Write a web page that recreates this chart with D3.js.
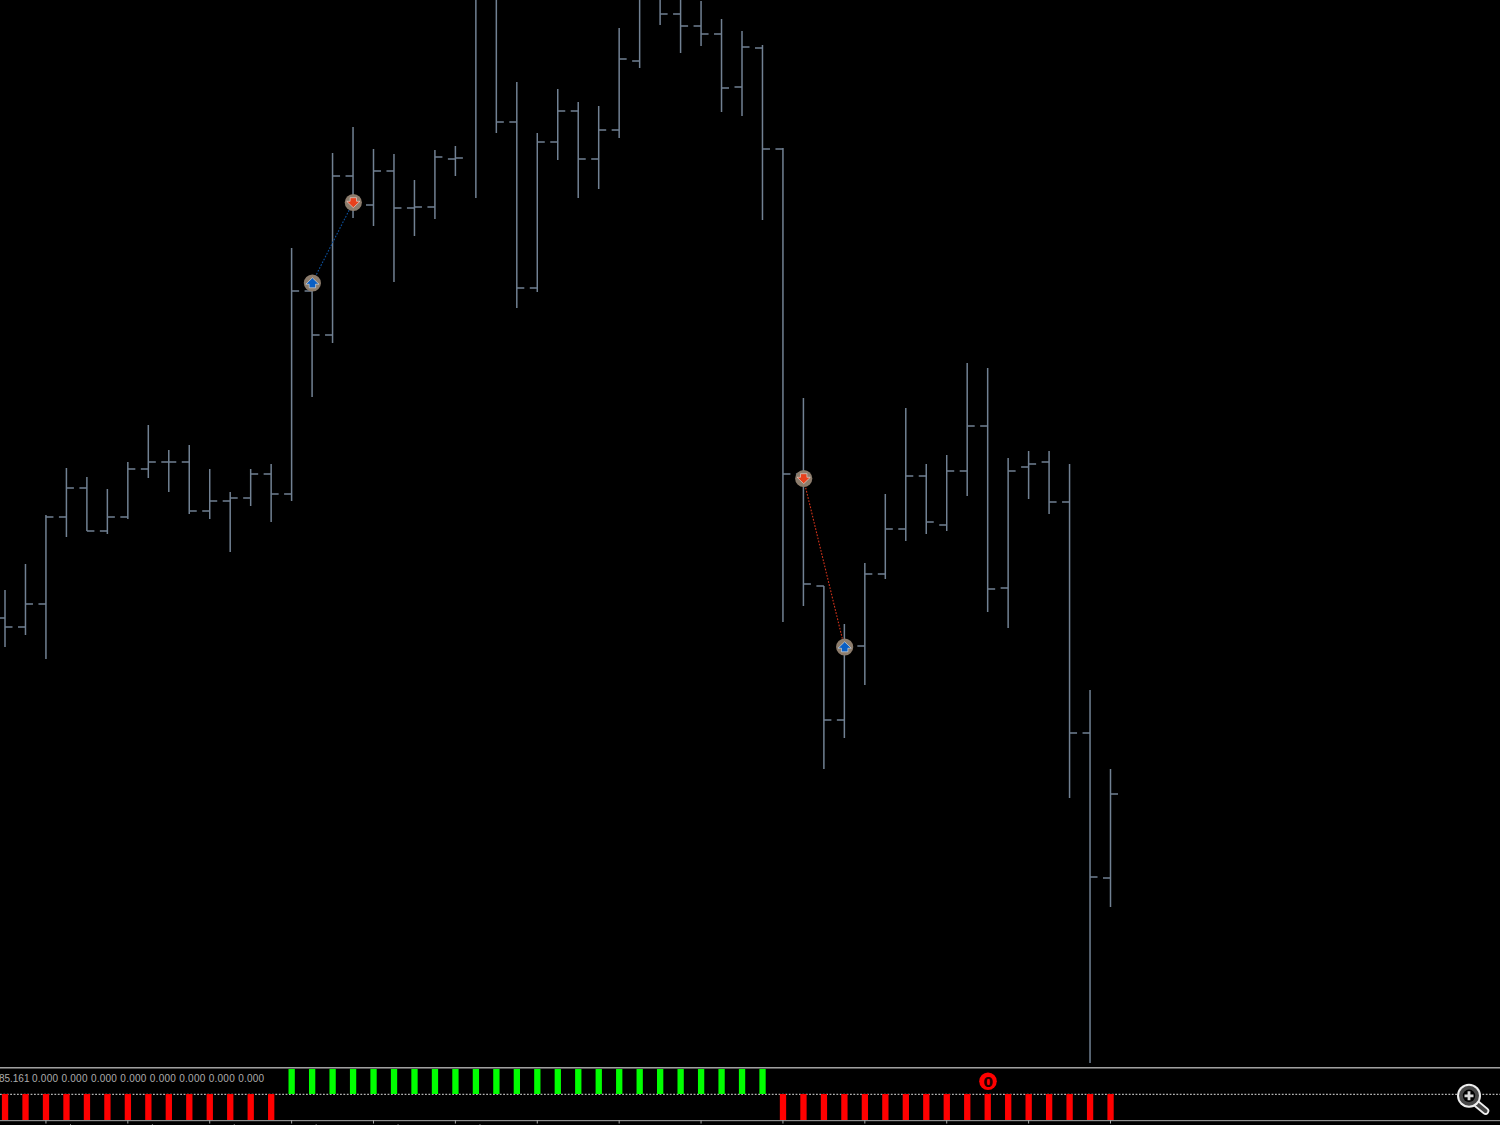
<!DOCTYPE html>
<html><head><meta charset="utf-8">
<style>html,body{margin:0;padding:0;background:#000;overflow:hidden}svg{display:block}</style>
<script src="https://cdn.jsdelivr.net/npm/d3@7/dist/d3.min.js"></script></head>
<body><svg id="c" width="1500" height="1125"></svg>
<script>
const open=[449,440,463,550,579,536,550,598,605,605,556,566,569,593,573,776,732,891,862,896,859,860,908,1077,1097,945,779,925,956,908,937,1006,1077,1053,1041,1033,980,1019,918,593,481,347,421,493,538,591,542,596,641,479,600,605,565,334,189];
const high=[477,503,552,599,590,578,605,642,617,622,598,575,598,603,819,784,914,940,918,913,887,917,921,1107,1107,985,934,978,965,961,1039,1087,1087,1077,1066,1048,1036,1022,919,669,481,443,504,573,659,603,612,704,699,609,616,616,603,377,298];
const low=[420,432,408,530,536,533,548,589,575,553,548,515,561,545,566,670,724,849,841,785,831,848,891,869,934,759,775,907,869,878,929,999,1042,1014,1021,955,951,847,445,461,298,329,382,488,526,533,536,571,455,439,568,553,269,4,160];
const close=[440,463,550,579,536,550,598,605,605,556,566,569,593,573,776,732,891,862,896,859,860,910,909,1097,945,779,925,956,908,937,1008,1077,1053,1041,1033,979,1020,918,593,483,347,421,493,538,591,545,596,641,478,596,603,565,334,190,273];
const signal=[-1,-1,-1,-1,-1,-1,-1,-1,-1,-1,-1,-1,-1,-1,1,1,1,1,1,1,1,1,1,1,1,1,1,1,1,1,1,1,1,1,1,1,1,1,-1,-1,-1,-1,-1,-1,-1,-1,-1,-1,-1,-1,-1,-1,-1,-1,-1];
const trades=[
  {from:15,fromPrice:784,to:17,toPrice:864.5,color:"#0b4f9c"},
  {from:39,fromPrice:588.5,to:41,toPrice:420,color:"#d0321a"}
];
const arrows=[{bar:15,price:784,dir:1},{bar:17,price:864.5,dir:-1},{bar:39,price:588.5,dir:-1},{bar:41,price:420,dir:1}];
const bufferLabels=["85.161","0.000","0.000","0.000","0.000","0.000","0.000","0.000","0.000"];
const timeTickBars=d3.range(2,55,4);
const subTickBars=[3.2,7.2,11.2,15.2,19.2,23.2];

const svg=d3.select("#c");
const x=d3.scaleLinear().domain([0,54]).range([5,1110.5]);
const y=d3.scaleLinear().domain([0,1067]).range([1067,0]);
const ys=d3.scaleLinear().domain([-1,1]).range([1120,1068]);
const idx=d3.range(open.length);
const barC="#718193";

const main=svg.append("g").attr("fill","none").attr("stroke",barC).attr("stroke-width",1.5);
main.selectAll(".hl").data(idx).join("line").attr("x1",i=>x(i)).attr("x2",i=>x(i)).attr("y1",i=>y(high[i])).attr("y2",i=>y(low[i]));
main.selectAll(".o").data(idx).join("line").attr("x1",i=>x(i)-7.5).attr("x2",i=>x(i)).attr("y1",i=>y(open[i])).attr("y2",i=>y(open[i]));
main.selectAll(".c").data(idx).join("line").attr("x1",i=>x(i)).attr("x2",i=>x(i)+7.5).attr("y1",i=>y(close[i])).attr("y2",i=>y(close[i]));

// trade links
svg.append("g").selectAll("line").data(trades).join("line")
  .attr("x1",d=>x(d.from)).attr("y1",d=>y(d.fromPrice)).attr("x2",d=>x(d.to)).attr("y2",d=>y(d.toPrice))
  .attr("stroke",d=>d.color).attr("stroke-width",1.1).attr("stroke-dasharray","1.7 1.5");

// arrows
const ag=svg.append("g").selectAll("g").data(arrows).join("g")
  .attr("transform",d=>`translate(${x(d.bar)+0.3},${y(d.price)})`);
ag.append("circle").attr("r",8.6).attr("fill","#8c7c6c");
ag.append("path").attr("d",d=>{const s=d.dir;return `M0,${-5.2*s}L6.6,${1.2*s}L3.2,${1.2*s}L3.2,${4.8*s}L-3.2,${4.8*s}L-3.2,${1.2*s}L-6.6,${1.2*s}Z`})
  .attr("fill",d=>d.dir>0?"#0a5fc4":"#e8401c").attr("stroke","#e8e4e0").attr("stroke-width",0.6);

// lower pane
svg.append("rect").attr("x",0).attr("y",1067).attr("width",1500).attr("height",1).attr("fill","#a0a0a0");
svg.append("rect").attr("x",0).attr("y",1068).attr("width",1500).attr("height",1).attr("fill","#555");
svg.append("rect").attr("x",0).attr("y",1120).attr("width",1500).attr("height",1.2).attr("fill","#8e8e8e");
svg.append("line").attr("x1",0).attr("x2",1500).attr("y1",ys(0)+0.3).attr("y2",ys(0)+0.3).attr("stroke","#e0e0e0").attr("stroke-width",1).attr("stroke-dasharray","1.8 1.6");
svg.append("g").selectAll("rect").data(idx).join("rect")
  .attr("x",i=>x(i)-3.1).attr("width",6.3)
  .attr("y",i=>signal[i]>0?ys(1)+1:ys(0)).attr("height",i=>signal[i]>0?ys(0)-ys(1)-1:ys(-1)-ys(0))
  .attr("fill",i=>signal[i]>0?"#00ff00":"#ff0000");

svg.append("g").attr("stroke","#a8a8a8").attr("stroke-width",1).selectAll("line").data(timeTickBars).join("line")
  .attr("x1",d=>x(d)).attr("x2",d=>x(d)).attr("y1",1120).attr("y2",1123.5);
svg.append("g").attr("stroke","#777").attr("stroke-width",1).selectAll("line").data(subTickBars).join("line")
  .attr("x1",d=>x(d)).attr("x2",d=>x(d)).attr("y1",1124).attr("y2",1125);

// buffer labels
svg.append("g").attr("font-family","'Liberation Sans',sans-serif").attr("font-size",10).attr("fill","#adadad")
  .selectAll("text").data(bufferLabels).join("text")
  .attr("x",(d,i)=>i===0?29.5:32+29.45*(i-1)).attr("text-anchor",(d,i)=>i===0?"end":"start").attr("y",1081.5)
  .attr("textLength",(d,i)=>i===0?null:26).text(d=>d);

// zero badge
svg.append("circle").attr("cx",988).attr("cy",1081.3).attr("r",8.8).attr("fill","#ff0000");
svg.append("text").attr("x",988).attr("y",1086.5).attr("text-anchor","middle").attr("font-family","'DejaVu Sans',sans-serif").attr("font-weight","bold").attr("font-size",14).attr("fill","#200000").text("0");

// zoom icon
const z=svg.append("g").attr("fill","none").attr("stroke-linecap","round");
z.append("line").attr("x1",1477).attr("y1",1104).attr("x2",1485.5).attr("y2",1111).attr("stroke","#eee").attr("stroke-width",7.5);
z.append("line").attr("x1",1477).attr("y1",1104).attr("x2",1485.5).attr("y2",1111).attr("stroke","#444").attr("stroke-width",4);
z.append("circle").attr("cx",1469).attr("cy",1095.8).attr("r",12).attr("fill","#eee");
z.append("circle").attr("cx",1469).attr("cy",1095.8).attr("r",10).attr("fill","#484848");
z.append("circle").attr("cx",1469).attr("cy",1095.8).attr("r",6.2).attr("fill","#000");
z.append("path").attr("d","M1469,1091.3V1100.3M1464.5,1095.8H1473.5").attr("stroke","#d8d8d8").attr("stroke-width",2.8).attr("stroke-linecap","butt");
</script></body></html>
